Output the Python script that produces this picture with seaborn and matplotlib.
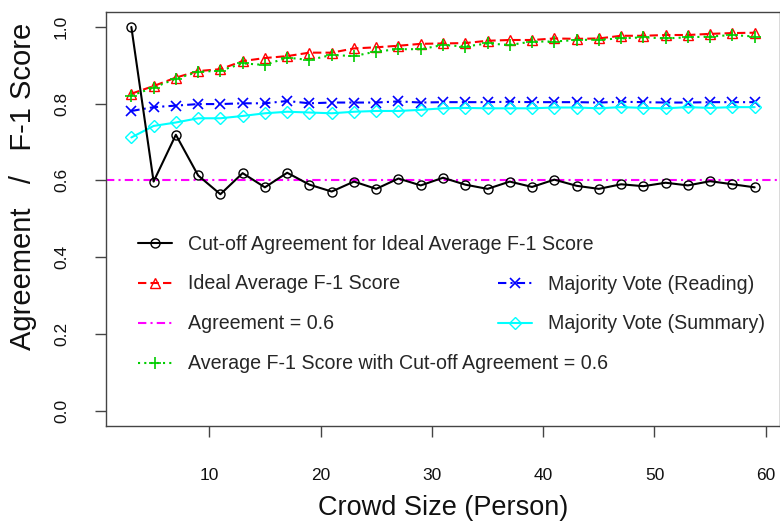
import matplotlib
matplotlib.use("Agg")
import matplotlib.pyplot as plt
import seaborn as sns
import numpy as np
import pandas as pd

# ---- data ----
crowd_size = [3, 5, 7, 9, 11, 13, 15, 17, 19, 21, 23, 25, 27, 29, 31,
              33, 35, 37, 39, 41, 43, 45, 47, 49, 51, 53, 55, 57, 59]
cutoff_agreement = [1.000, 0.597, 0.719, 0.613, 0.564, 0.619, 0.582, 0.620, 0.589, 0.571,
                    0.597, 0.578, 0.605, 0.587, 0.607, 0.589, 0.578, 0.597, 0.583, 0.602,
                    0.586, 0.578, 0.590, 0.585, 0.594, 0.587, 0.598, 0.590, 0.582]
ideal_f1 = [0.826, 0.846, 0.868, 0.885, 0.890, 0.911, 0.919, 0.924, 0.933, 0.933,
            0.944, 0.947, 0.951, 0.956, 0.957, 0.958, 0.964, 0.966, 0.966, 0.970,
            0.969, 0.970, 0.977, 0.977, 0.979, 0.979, 0.982, 0.984, 0.985]
f1_cutoff_06 = [0.821, 0.842, 0.865, 0.883, 0.886, 0.905, 0.901, 0.920, 0.914, 0.927,
                0.924, 0.936, 0.942, 0.942, 0.953, 0.949, 0.957, 0.953, 0.962, 0.962,
                0.966, 0.967, 0.970, 0.973, 0.970, 0.973, 0.975, 0.979, 0.975]
majority_reading = [0.781, 0.791, 0.795, 0.799, 0.799, 0.801, 0.801, 0.807, 0.801, 0.803,
                    0.803, 0.803, 0.806, 0.803, 0.804, 0.804, 0.804, 0.805, 0.804, 0.804,
                    0.804, 0.803, 0.805, 0.804, 0.803, 0.803, 0.804, 0.804, 0.804]
majority_summary = [0.712, 0.742, 0.751, 0.762, 0.762, 0.768, 0.775, 0.779, 0.777, 0.775,
                    0.779, 0.781, 0.781, 0.784, 0.788, 0.789, 0.788, 0.788, 0.788, 0.790,
                    0.790, 0.788, 0.791, 0.789, 0.788, 0.791, 0.789, 0.791, 0.791]
agreement_level = 0.6

x_ticks = [10, 20, 30, 40, 50, 60]
y_ticks = [0.0, 0.2, 0.4, 0.6, 0.8, 1.0]
y_tick_labels = ["0.0", "0.2", "0.4", "0.6", "0.8", "1.0"]

lab_cutoff = "Cut-off Agreement for Ideal Average F-1 Score"
lab_ideal = "Ideal Average F-1 Score"
lab_agree = "Agreement = 0.6"
lab_f1cut = "Average F-1 Score with Cut-off Agreement = 0.6"
lab_read = "Majority Vote (Reading)"
lab_summ = "Majority Vote (Summary)"

df = pd.DataFrame({
    "x": crowd_size,
    "cutoff": cutoff_agreement,
    "ideal": ideal_f1,
    "f1cut": f1_cutoff_06,
    "read": majority_reading,
    "summ": majority_summary,
})

sns.set_theme(style="white")
plt.rcParams["font.family"] = ["Liberation Sans", "DejaVu Sans"]

fig = plt.figure(figsize=(7.8, 5.21), dpi=100)
ax = fig.add_axes([106.4 / 780, 1 - 426 / 521, (779.6 - 106.4) / 780, (426 - 11.6) / 521])

lw = 1.5
ms = 6.5
handles = {}

sns.lineplot(data=df, x="x", y="ideal", ax=ax, color="#FF0000", lw=lw,
             marker="^", markersize=ms, markerfacecolor="none", markeredgecolor="#FF0000",
             markeredgewidth=1.0, label=lab_ideal)
l = ax.lines[-1]; l.set_dashes((4, 2)); handles["ideal"] = l

sns.lineplot(data=df, x="x", y="f1cut", ax=ax, color="#00CD00", lw=lw,
             marker="+", markersize=ms + 2, markeredgecolor="#00CD00",
             markeredgewidth=1.2, label=lab_f1cut)
l = ax.lines[-1]; l.set_dashes((1, 2)); handles["f1cut"] = l

sns.lineplot(data=df, x="x", y="read", ax=ax, color="#0000FF", lw=lw,
             marker="x", markersize=ms, markeredgecolor="#0000FF",
             markeredgewidth=1.2, label=lab_read)
l = ax.lines[-1]; l.set_dashes((4, 2, 1, 2)); handles["read"] = l

sns.lineplot(data=df, x="x", y="summ", ax=ax, color="#00FFFF", lw=lw,
             marker="D", markersize=ms - 0.5, markerfacecolor="none", markeredgecolor="#00FFFF",
             markeredgewidth=1.0, label=lab_summ)
handles["summ"] = ax.lines[-1]

hl = ax.axhline(agreement_level, color="#FF00FF", lw=lw, label=lab_agree)
hl.set_dashes((4, 2, 1, 2))
handles["agree"] = hl

sns.lineplot(data=df, x="x", y="cutoff", ax=ax, color="black", lw=lw,
             marker="o", markersize=ms, markerfacecolor="none", markeredgecolor="black",
             markeredgewidth=1.0, label=lab_cutoff)
handles["cutoff"] = ax.lines[-1]

ax.set_xlim(0.76, 61.24)
ax.set_ylim(-0.04, 1.04)
ax.set_xticks(x_ticks)
ax.set_xticklabels([str(t) for t in x_ticks])
ax.set_yticks(y_ticks)
ax.set_yticklabels(y_tick_labels, rotation=90, va="center")

for s in ax.spines.values():
    s.set_color("#444444")
    s.set_linewidth(1.0)
ax.tick_params(axis="both", direction="out", length=8, width=1.0, color="#444444",
               labelsize=12.5, labelcolor="#111111", left=True, bottom=True)
ax.tick_params(axis="x", pad=22)
ax.tick_params(axis="y", pad=19)

ax.set_xlabel("Crowd Size (Person)", fontsize=19.5, va="center", color="#111111")
ax.xaxis.set_label_coords(0.5, -0.198)
ax.set_ylabel("Agreement   /   F-1 Score", fontsize=21, va="center", color="#111111")
ax.yaxis.set_label_coords(-0.124, 0.578)

if ax.get_legend() is not None:
    ax.get_legend().remove()

fs_leg = 14.1
leg_kw = dict(loc="upper left", frameon=False, fontsize=fs_leg, handlelength=1.73,
              handletextpad=0.82, labelspacing=1.07, borderaxespad=0, borderpad=0)
leg1 = ax.legend([handles["cutoff"], handles["ideal"], handles["agree"], handles["f1cut"]],
                 [lab_cutoff, lab_ideal, lab_agree, lab_f1cut],
                 bbox_to_anchor=((138 - 106.4) / 673.2, (426 - 234.5) / 414.4), **leg_kw)
ax.add_artist(leg1)
leg2 = ax.legend([handles["read"], handles["summ"]], [lab_read, lab_summ],
                 bbox_to_anchor=((498 - 106.4) / 673.2, (426 - 274.5) / 414.4), **leg_kw)

fig.savefig("out.png", dpi=100)
